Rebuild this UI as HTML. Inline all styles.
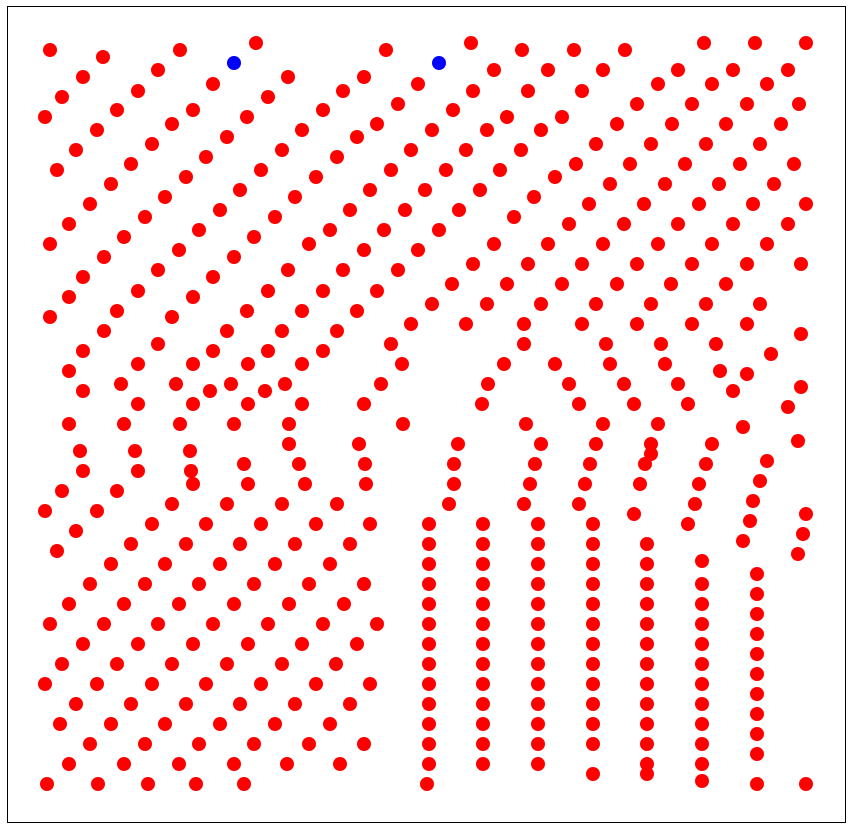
<!DOCTYPE html>
<html><head><meta charset="utf-8"><style>
html,body{margin:0;padding:0;background:#fff;}
svg{display:block;font-family:"Liberation Sans",sans-serif;}
</style></head><body>
<svg id="chart" width="851" height="829">
<rect x="7.5" y="6.5" width="838" height="816" fill="#fff" stroke="#000" stroke-width="1"/>
<g id="pts"></g>
</svg>
<script>
const rowY = [43,50,57,70,77,84,91,97,104,110,117,124,130,137,144,150,157,164,170,177,184,190,197,204,210,217,224,230,237,244,250,257,264,270,277,284,291,297,304,311,317,324,331,334,344,351,354,364,371,374,384,387,391,404,407,424,427,441,444,451,454,461,464,471,481,484,491,501,504,511,514,521,524,531,534,541,544,551,554,561,564,574,584,594,604,614,624,634,644,654,664,674,684,694,704,714,724,734,744,754,764,774,781,784];
const rowX = [
[256,471,704,755,806],[50,180,386,522,574,625],[103],[158,494,548,603,678,733,788],[83,288,364],[213,418,658,712,767],[138,343,473,528,582],[62,268],[398,637,692,747,799],[117,193,323,453],[45,247,507,562],[172,377,617,672,726,781],[97,302,432,487,541],[227,357],[152,596,651,706,760],[76,282,411,466,521],[206,337],[131,576,630,685,740,794],[57,261,391,446,500],[186,316,555],[111,610,665,719,774],[240,370,425,480],[165,295,534],[90,589,644,699,753,806],[220,350,405,459],[145,275,514],[69,569,624,678,733,788],[199,330,384,439],[124,254],[50,309,494,548,603,658,712,767],[179,364,418],[104,234],[473,528,582,637,692,747,801],[158,288,343,398],[83,213],[452,507,562,617,671,726],[138,268,323,377],[69,193],[432,487,541,596,651,706,760],[117,247,302,357],[50,172],[411,466,524,582,637,692,747],[104,227,282,337],[801],[158,391,524,606,661,716],[83,213,268,323],[771],[138,193,248,302,402,504,555,610,665],[69,720],[747],[121,176,231,285,381,488,569,624,678],[801],[83,210,265,733],[138,193,248,302,364,482,579,634,688],[788],[69,124,180,234,289,403,526,603,658],[743],[798],[289,359,458,541,596,651,712],[80,135,190],[651],[767],[244,299,365,454,535,590,645,706],[83,138,191],[760],[193,248,305,366,454,530,585,640,699],[62,117],[753],[172,227,282,337,449,524,579,695],[45,97],[634,806],[750],[152,206,261,316,370,429,483,538,593,688],[76],[803],[743],[131,186,240,295,350,429,483,538,593,647],[57],[798],[702],[111,165,220,275,330,429,483,538,593,647],[757],[90,145,199,254,309,364,429,483,538,593,647,702],[757],[69,124,179,234,289,344,429,483,538,593,647,702],[757],[50,104,158,213,268,323,377,429,483,538,593,647,702],[757],[83,138,193,248,302,357,429,483,538,593,647,702],[757],[62,117,172,227,282,336,429,483,538,593,647,702],[757],[45,97,152,206,261,316,370,429,483,538,593,647,702],[757],[76,131,186,240,295,350,429,483,538,593,647,702],[757],[60,111,165,220,275,330,429,483,538,593,647,702],[757],[90,145,199,254,309,364,429,483,538,593,647,702],[757],[69,124,179,234,287,340,429,483,538,647,702],[593,647],[702],[47,98,148,196,244,427,757,806]
];
const blueX = [234,439];
const blueY = [63,63];
const xDomain = [0,851], yDomain = [0,829];
const xRange = [0,851], yRange = [0,829];
function sx(v){return xRange[0]+(v-xDomain[0])/(xDomain[1]-xDomain[0])*(xRange[1]-xRange[0]);}
function sy(v){return yRange[0]+(v-yDomain[0])/(yDomain[1]-yDomain[0])*(yRange[1]-yRange[0]);}
const g = document.getElementById('pts');
const NS = 'http://www.w3.org/2000/svg';
function dot(x,y,color,name){
  const c = document.createElementNS(NS,'circle');
  c.setAttribute('cx',sx(x));c.setAttribute('cy',sy(y));c.setAttribute('r',7);
  c.setAttribute('fill',color);
  
  
  g.appendChild(c);
}
rowY.forEach((y,i)=>{ (rowX[i]||[]).forEach(x=>dot(x,y,'#ff0000','red-point')); });
blueX.forEach((x,i)=>dot(x,blueY[i],'#0000ff','blue-point'));
</script>
</body></html>
